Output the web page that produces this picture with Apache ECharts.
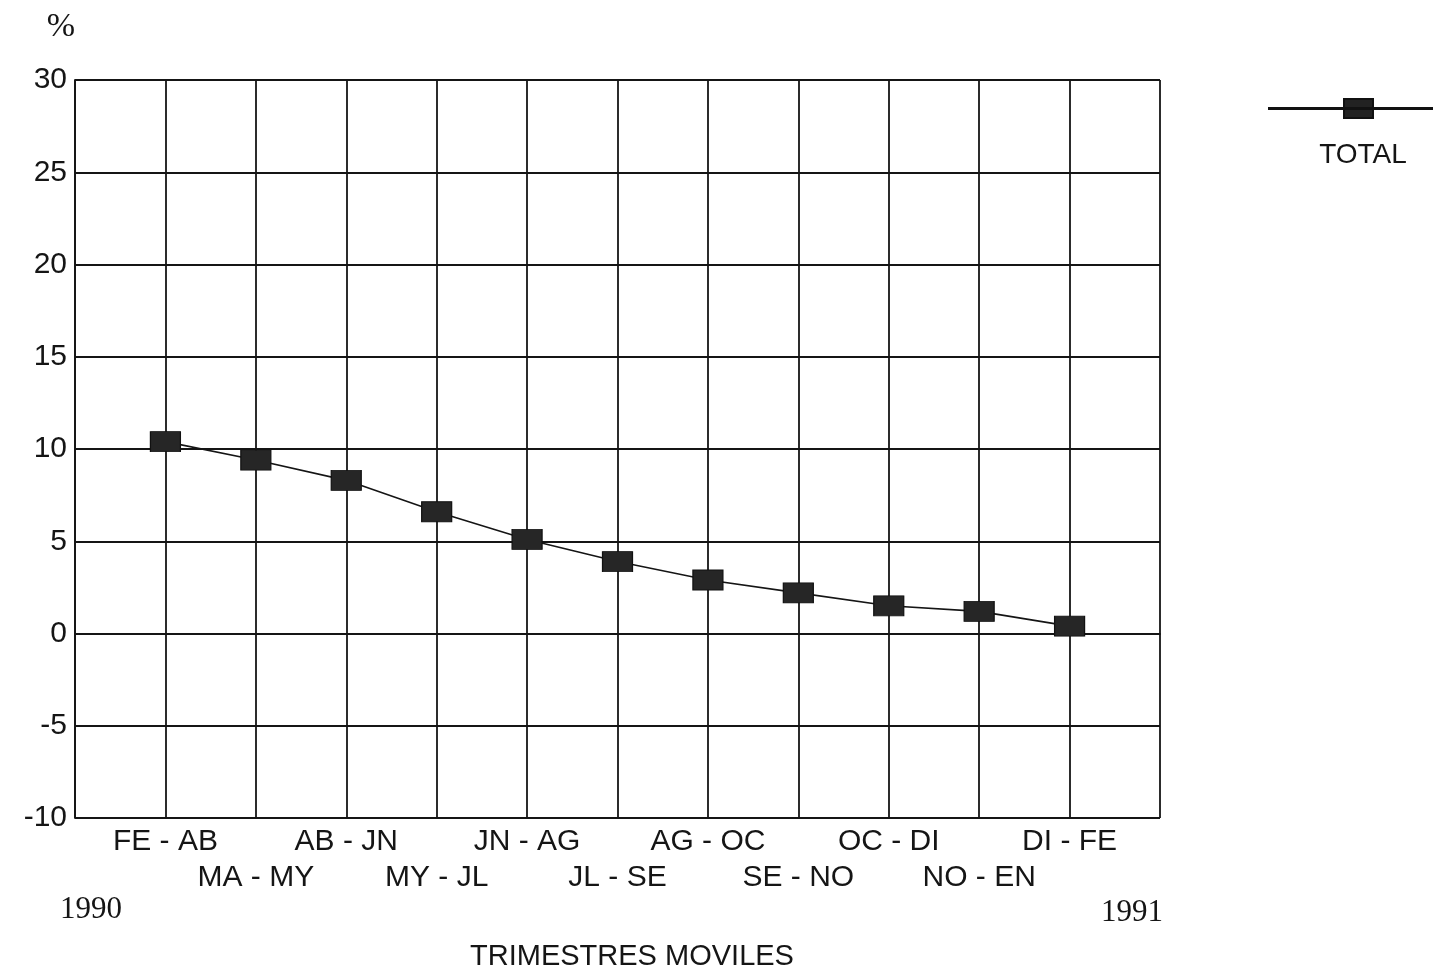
<!DOCTYPE html>
<html>
<head>
<meta charset="utf-8">
<script src="https://cdn.jsdelivr.net/npm/echarts@6/dist/echarts.min.js"></script>
<style>
  html, body { margin: 0; padding: 0; background: #fff; }
  #chart { width: 1433px; height: 971px; }
</style>
</head>
<body>
<div id="chart"></div>
<script>
// trimestres moviles, blank slot at each end so points sit on gridlines
var periods = ['', 'FE - AB', 'MA - MY', 'AB - JN', 'MY - JL', 'JN - AG', 'JL - SE',
  'AG - OC', 'SE - NO', 'OC - DI', 'NO - EN', 'DI - FE', ''];
var total = [null, 10.4, 9.4, 8.3, 6.6, 5.1, 3.9, 2.9, 2.2, 1.5, 1.2, 0.4, null];
var yTicks = { min: -10, max: 30, step: 5 };

var sans = '"Liberation Sans", Arial, sans-serif';
var serif = '"Liberation Serif", "Times New Roman", serif';
var ink = '#151515';

var myChart = echarts.init(document.getElementById('chart'));

// legend icon: thin line with a box in the middle (165 x 19)
var legendIcon = 'path://M0,9.1 L165,9.1 L165,10.1 L0,10.1 Z M75,0 L104,0 L104,19 L75,19 Z';

var option = {
  backgroundColor: '#fff',
  animation: false,
  grid: { left: 75, right: 273, top: 80, bottom: 153 },
  title: [
    { text: 'TRIMESTRES MOVILES', left: 627, top: 937, textAlign: 'center',
      textStyle: { fontFamily: sans, fontSize: 29, fontWeight: 'normal', color: ink } },
    { text: '1990', left: 55, top: 889,
      textStyle: { fontFamily: serif, fontSize: 31, fontWeight: 'normal', color: ink } },
    { text: '1991', left: 1096, top: 892,
      textStyle: { fontFamily: serif, fontSize: 31, fontWeight: 'normal', color: ink } },
    { text: 'TOTAL', left: 1358, top: 136, textAlign: 'center',
      textStyle: { fontFamily: sans, fontSize: 28, fontWeight: 'normal', color: ink } }
  ],
  legend: {
    left: 1263, top: 93,
    itemWidth: 165, itemHeight: 19,
    itemGap: 0,
    formatter: function () { return ''; },
    data: [{ name: 'TOTAL', icon: legendIcon, itemStyle: { color: '#222' } }]
  },
  xAxis: {
    type: 'category',
    data: periods,
    boundaryGap: false,
    axisLine: { lineStyle: { color: ink, width: 1.8 } },
    axisTick: { show: false },
    axisLabel: {
      interval: 0,
      margin: 6,
      fontFamily: sans, fontSize: 30, color: ink, lineHeight: 36,
      formatter: function (v, i) { return i % 2 === 0 ? '\n' + v : v; }
    },
    splitLine: { show: true, interval: 0, lineStyle: { color: ink, width: 1.8 } }
  },
  yAxis: {
    type: 'value',
    min: yTicks.min, max: yTicks.max, interval: yTicks.step,
    name: '%',
    nameGap: 36,
    nameTextStyle: { fontFamily: serif, fontSize: 34, color: ink, align: 'right', padding: [0, 0, 0, 0] },
    axisLine: { show: true, lineStyle: { color: ink, width: 1.8 } },
    axisTick: { show: false },
    axisLabel: { fontFamily: sans, fontSize: 30, color: ink, margin: 8 },
    splitLine: { show: true, lineStyle: { color: ink, width: 1.8 } }
  },
  series: [{
    name: 'TOTAL',
    type: 'line',
    data: total,
    symbol: 'rect',
    symbolSize: [30, 20],
    itemStyle: { color: '#262626', borderColor: '#111', borderWidth: 1 },
    lineStyle: { color: ink, width: 1.6 }
  }]
};

myChart.setOption(option);
</script>
</body>
</html>
